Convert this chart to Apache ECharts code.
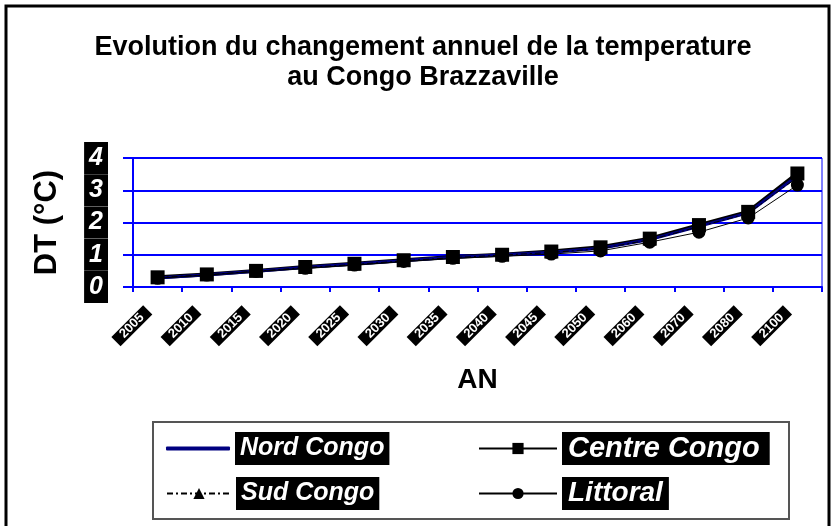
<!DOCTYPE html>
<html>
<head>
<meta charset="utf-8">
<script src="https://cdn.jsdelivr.net/npm/echarts@6/dist/echarts.min.js"></script>
<style>html,body{margin:0;padding:0;background:#fff}#c{width:831px;height:526px}</style>
</head>
<body>
<div id="c"></div>
<script>
var categories = ['2005','2010','2015','2020','2025','2030','2035','2040','2045','2050','2060','2070','2080','2100'];
var nordCongo   = [0.28,0.38,0.49,0.61,0.71,0.82,0.92,1.00,1.08,1.20,1.47,1.88,2.30,3.45];
var centreCongo = [0.30,0.39,0.50,0.62,0.72,0.83,0.93,1.00,1.10,1.23,1.50,1.92,2.33,3.52];
var sudCongo    = [0.29,0.38,0.49,0.60,0.70,0.81,0.91,0.99,1.07,1.19,1.46,1.87,2.28,3.40];
var littoral    = [0.27,0.37,0.48,0.58,0.68,0.79,0.89,0.95,1.02,1.12,1.39,1.70,2.14,3.16];
var yTicks = [0,1,2,3,4];

var blue = '#0000ff';
var F = 'Liberation Sans, Arial, sans-serif';
function legText(fs, pad){
  return {color:'#fff', backgroundColor:'#000', fontFamily:F, fontWeight:'bold', fontStyle:'italic', fontSize:fs, lineHeight:32, padding:pad};
}
function leg(item, left, top, w, h, fs, pad){
  return {data:[item], left:left, top:top, padding:0, itemWidth:w, itemHeight:h, textStyle:legText(fs, pad), selectedMode:false};
}
var chart = echarts.init(document.getElementById('c'), null, {renderer:'canvas'});
chart.setOption({
  animation:false,
  backgroundColor:'#fff',
  title:{
    text:'Evolution du changement annuel de la temperature\nau Congo Brazzaville',
    left:418, textAlign:'center', top:28,
    textStyle:{fontFamily:F, fontWeight:'bold', fontSize:27, lineHeight:30, color:'#000'}
  },
  graphic:[
    {type:'rect', shape:{x:6,y:6,width:823,height:540}, style:{fill:'none', stroke:'#000', lineWidth:3}},
    {type:'rect', shape:{x:153,y:422,width:636,height:97}, style:{fill:'none', stroke:'#555', lineWidth:2}}
  ],
  grid:{left:133, right:9, top:158, bottom:239, show:true, borderColor:blue, borderWidth:1, backgroundColor:'transparent'},
  xAxis:{
    type:'category', data:categories, boundaryGap:true,
    name:'AN', nameLocation:'middle', nameGap:79,
    nameTextStyle:{fontFamily:F, fontWeight:'bold', fontSize:28, color:'#000'},
    axisLine:{lineStyle:{color:blue, width:2}},
    axisTick:{show:true, length:5, lineStyle:{color:blue, width:2}},
    axisLabel:{interval:0, rotate:45, margin:13, hideOverlap:false,
      formatter:function(v){return '{a|' + v + '}{s|}';},
      rich:{
        a:{color:'#fff', backgroundColor:'#000', fontFamily:F, fontWeight:'bold', fontSize:13, lineHeight:15, padding:[0,8,0,8]},
        s:{width:14, fontSize:13, lineHeight:15}
      }
    }
  },
  yAxis:{
    type:'value', min:0, max:4, interval:1,
    name:'DT (°C)', nameLocation:'middle', nameGap:70,
    nameTextStyle:{fontFamily:F, fontWeight:'bold', fontSize:31, color:'#000'},
    axisLine:{show:true, lineStyle:{color:blue, width:2}},
    axisTick:{show:true, length:10, lineStyle:{color:blue, width:2}},
    splitLine:{show:true, lineStyle:{color:blue, width:2}},
    axisLabel:{margin:25, showMinLabel:true, showMaxLabel:true, hideOverlap:false,
      color:'#fff', backgroundColor:'#000', fontFamily:F, fontWeight:'bold', fontStyle:'italic', fontSize:25, lineHeight:32, padding:[0,5,0,5],
      formatter:function(v){return yTicks.indexOf(v)>=0 ? String(v) : '';}}
  },
  legend:[
    leg({name:'Nord Congo', icon:'roundRect', itemStyle:{color:'#000080'}}, 166, 432, 64, 4, 25, [1,5,0,5]),
    leg({name:'Centre Congo'}, 478, 432, 78, 14, 29, [1,10,0,6]),
    leg({name:'Sud Congo'}, 166, 477, 64, 14, 25, [1,5,0,5]),
    leg({name:'Littoral'}, 478, 477, 78, 14, 28, [1,6,0,6])
  ],
  series:[
    {name:'Centre Congo', type:'line', data:centreCongo, symbol:'rect', symbolSize:14, lineStyle:{color:'#000', width:4}, itemStyle:{color:'#000'}},
    {name:'Nord Congo', type:'line', data:nordCongo, symbol:'none', lineStyle:{color:'#000080', width:3}, itemStyle:{color:'#000080'}},
    {name:'Sud Congo', type:'line', data:sudCongo, symbol:'triangle', symbolSize:12, lineStyle:{color:'#000', width:1, type:[6,3,2,3]}, itemStyle:{color:'#000'}},
    {name:'Littoral', type:'line', data:littoral, symbol:'circle', symbolSize:13, lineStyle:{color:'#000', width:1}, itemStyle:{color:'#000'}}
  ]
});
</script>
</body>
</html>
